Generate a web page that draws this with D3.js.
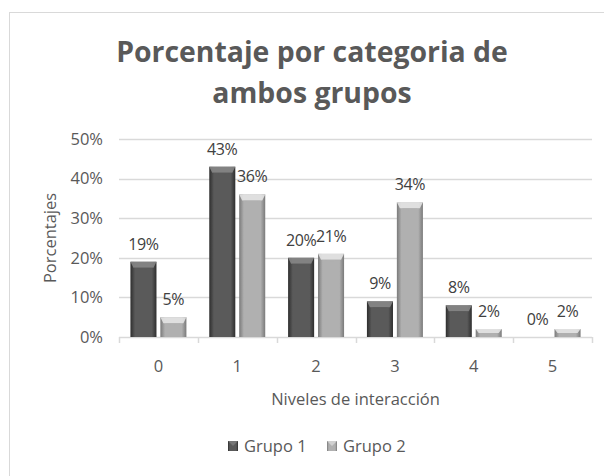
<!DOCTYPE html>
<html>
<head>
<meta charset="utf-8">
<script src="https://cdn.jsdelivr.net/npm/d3@7"></script>
<style>
  body { margin: 0; background: #fff; }
  svg { display: block; font-family: 'Open Sans', sans-serif; }
</style>
</head>
<body>
<svg id="chart" width="604" height="476"></svg>
<script>
// data
var categories = ['0', '1', '2', '3', '4', '5'];
var groups = ['Grupo 1', 'Grupo 2'];
var grupo1 = [19, 43, 20, 9, 8, 0];
var grupo2 = [5, 36, 21, 34, 2, 2];
var yTicks = [0, 10, 20, 30, 40, 50];

var svg = d3.select('#chart');
var plot = { left: 119, right: 592, top: 139, bottom: 337 };

// chart frame (runs off the right and bottom edge)
svg.append('rect')
    .attr('x', 9.5).attr('y', 12.5)
    .attr('width', 620).attr('height', 500)
    .attr('fill', '#fff')
    .attr('stroke', '#d9d9d9');

// gradients for the bevelled bars
var defs = svg.append('defs');
var shades = [
    { id: 'g1', edge: '#2e2e2e', mid: '#5a5a5a', cap: '#8a8a8a' },
    { id: 'g2', edge: '#7a7a7a', mid: '#b0b0b0', cap: '#e8e8e8' }
];
shades.forEach(function(s) {
    var lg = defs.append('linearGradient').attr('id', s.id).attr('x1', 0).attr('x2', 1);
    lg.append('stop').attr('offset', '0%').attr('stop-color', s.edge);
    lg.append('stop').attr('offset', '18%').attr('stop-color', s.mid);
    lg.append('stop').attr('offset', '82%').attr('stop-color', s.mid);
    lg.append('stop').attr('offset', '100%').attr('stop-color', s.edge);
});

var x0 = d3.scaleBand().domain(categories).range([plot.left, plot.right])
    .paddingInner(0.29).paddingOuter(0.145);
var x1 = d3.scaleBand().domain(groups).range([0, x0.bandwidth()]).paddingInner(0.13);
var y = d3.scaleLinear().domain([0, 50]).range([plot.bottom, plot.top]);

// gridlines
svg.append('g').selectAll('line').data(yTicks).enter().append('line')
    .attr('x1', plot.left).attr('x2', plot.right)
    .attr('y1', function(d) { return Math.round(y(d)) + 0.5; })
    .attr('y2', function(d) { return Math.round(y(d)) + 0.5; })
    .attr('stroke', '#d9d9d9').attr('stroke-width', 1.5);

// x axis ticks between categories
var bounds = d3.range(categories.length + 1).map(function(i) { return plot.left + i * (plot.right - plot.left) / categories.length; });
svg.append('g').selectAll('line').data(bounds).enter().append('line')
    .attr('x1', function(d) { return Math.round(d) + 0.5; })
    .attr('x2', function(d) { return Math.round(d) + 0.5; })
    .attr('y1', plot.bottom).attr('y2', plot.bottom + 6)
    .attr('stroke', '#d9d9d9').attr('stroke-width', 1.5);

// y tick labels
svg.append('g').selectAll('text').data(yTicks).enter().append('text')
    .attr('x', 103).attr('y', function(d) { return y(d); })
    .attr('dy', '0.35em')
    .attr('text-anchor', 'end')
    .attr('font-size', 16.5).attr('fill', '#595959')
    .text(function(d) { return d + '%'; });

// x tick labels
svg.append('g').selectAll('text').data(categories).enter().append('text')
    .attr('x', function(d) { return x0(d) + x0.bandwidth() / 2; })
    .attr('y', 366).attr('dy', '0.35em')
    .attr('text-anchor', 'middle')
    .attr('font-size', 16.5).attr('fill', '#595959')
    .text(function(d) { return d; });

// bars
var rows = categories.map(function(c, i) {
    return { cat: c, vals: [grupo1[i], grupo2[i]] };
});
var catG = svg.append('g').selectAll('g').data(rows).enter().append('g')
    .attr('transform', function(d) { return 'translate(' + x0(d.cat) + ',0)'; });

var bars = catG.selectAll('g').data(function(d) {
    return d.vals.map(function(v, j) { return { g: groups[j], v: v, j: j }; });
}).enter().append('g');

bars.filter(function(d) { return d.v > 0; }).each(function(d) {
    var g = d3.select(this);
    var bx = x1(d.g), bw = x1.bandwidth();
    var top = y(d.v), h = plot.bottom - top;
    var cap = Math.min(6, h / 2);
    g.append('rect')
        .attr('x', bx).attr('y', top)
        .attr('width', bw).attr('height', h)
        .attr('fill', 'url(#' + shades[d.j].id + ')');
    // top bevel
    g.append('path')
        .attr('d', 'M' + bx + ',' + top + 'L' + (bx + bw) + ',' + top +
            'L' + (bx + bw - 3) + ',' + (top + cap) + 'L' + (bx + 3) + ',' + (top + cap) + 'Z')
        .attr('fill', shades[d.j].cap).attr('opacity', 0.85);
    g.append('path')
        .attr('d', 'M' + (bx + 3) + ',' + (top + cap) + 'L' + (bx + bw - 3) + ',' + (top + cap) +
            'L' + (bx + bw / 2) + ',' + (top + cap + 2) + 'Z')
        .attr('fill', shades[d.j].mid);
});

// data labels
bars.append('text')
    .attr('x', function(d) { return x1(d.g) + x1.bandwidth() / 2; })
    .attr('y', function(d) { return y(d.v) - 12; })
    .attr('text-anchor', 'middle')
    .attr('font-size', 16).attr('letter-spacing', -0.4).attr('fill', '#404040')
    .text(function(d) { return d.v + '%'; });

// title
svg.append('text')
    .attr('x', 312).attr('y', 62)
    .attr('text-anchor', 'middle')
    .attr('font-size', 28.4).attr('font-weight', 'bold').attr('fill', '#595959')
    .text('Porcentaje por categoria de');
svg.append('text')
    .attr('x', 312).attr('y', 103)
    .attr('text-anchor', 'middle')
    .attr('font-size', 28.4).attr('font-weight', 'bold').attr('fill', '#595959')
    .text('ambos grupos');

// axis titles
svg.append('text')
    .attr('x', (plot.left + plot.right) / 2).attr('y', 399).attr('dy', '0.35em')
    .attr('text-anchor', 'middle')
    .attr('font-size', 16.5).attr('fill', '#595959')
    .text('Niveles de interacción');
svg.append('text')
    .attr('transform', 'translate(50,' + (plot.top + plot.bottom) / 2 + ') rotate(-90)')
    .attr('dy', '0.35em')
    .attr('text-anchor', 'middle')
    .attr('font-size', 16.5).attr('fill', '#595959')
    .text('Porcentajes');

// legend
var legend = svg.append('g').attr('transform', 'translate(228,446)');
var lx = [0, 99];
groups.forEach(function(name, i) {
    var item = legend.append('g').attr('transform', 'translate(' + lx[i] + ',0)');
    item.append('rect')
        .attr('x', 0).attr('y', -5).attr('width', 10).attr('height', 10)
        .attr('fill', 'url(#' + shades[i].id + ')');
    item.append('path')
        .attr('d', 'M0,-5L10,-5L5,0Z').attr('fill', shades[i].cap).attr('opacity', 0.6);
    item.append('text')
        .attr('x', 16).attr('dy', '0.35em')
        .attr('font-size', 16.5).attr('fill', '#595959')
        .text(name);
});
</script>
</body>
</html>
